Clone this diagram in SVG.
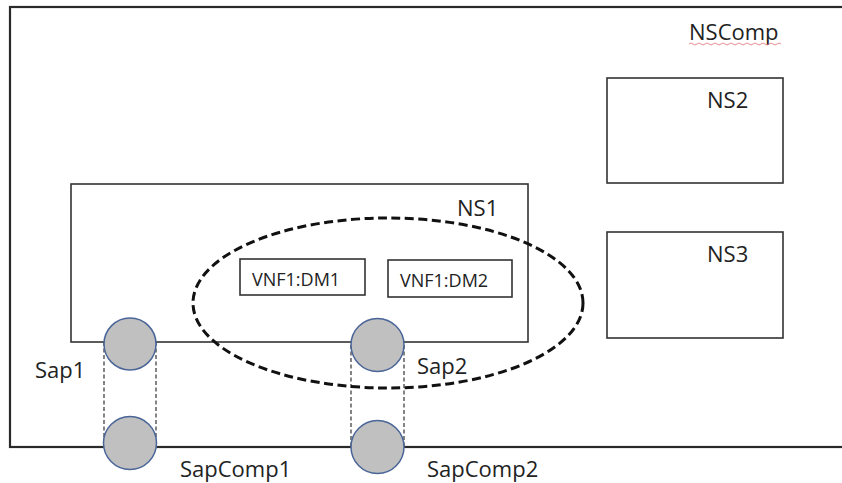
<svg xmlns="http://www.w3.org/2000/svg" width="842" height="483" viewBox="0 0 842 483">
<style>
text{font-family:"Open Sans","Noto Sans","Liberation Sans",sans-serif;fill:#222;}
.lbl{font-size:22px;}
.small{font-size:18px;}
.box{fill:none;stroke:#333;stroke-width:1.6;}
.outer{fill:#fff;stroke:#2a2a2a;stroke-width:2.2;}
.sap{fill:#c0c0c0;stroke:#4a6598;stroke-width:1.5;}
.link{stroke:#333;stroke-width:1.2;stroke-dasharray:4 2.5;fill:none;}
.grp{fill:none;stroke:#111;stroke-width:3;stroke-dasharray:9 4.5;}
</style>
<rect width="842" height="483" fill="#fff"/>
<g id="NSComp">
<rect class="outer" x="10" y="7" width="840" height="440"/>
<text class="lbl" x="689" y="40">NSComp</text>
<path d="M689,44 q2,-2 4,0 t4,0 t4,0 t4,0 t4,0 t4,0 t4,0 t4,0 t4,0 t4,0 t4,0 t4,0 t4,0 t4,0 t4,0 t4,0 t4,0 t4,0 t4,0 t4,0 t4,0 t4,0 t4,0" fill="none" stroke="#e07070" stroke-width="0.8"/>
</g>
<g id="NS2">
<rect class="box" x="607" y="78" width="176" height="105"/>
<text class="lbl" x="707" y="108">NS2</text>
</g>
<g id="NS3">
<rect class="box" x="607" y="232" width="176" height="106"/>
<text class="lbl" x="707" y="262">NS3</text>
</g>
<g id="NS1">
<rect class="box" x="71" y="184" width="457" height="158"/>
<text class="lbl" x="457" y="216">NS1</text>
</g>
<g id="VNF1-DM1">
<rect class="box" x="240" y="259" width="125" height="36"/>
<text class="small" x="252" y="286">VNF1:DM1</text>
</g>
<g id="VNF1-DM2">
<rect class="box" x="388" y="260" width="124" height="37"/>
<text class="small" x="400" y="287">VNF1:DM2</text>
</g>
<g id="connectors">
<line class="link" x1="104" y1="342" x2="104" y2="443"/>
<line class="link" x1="156" y1="342" x2="156" y2="443"/>
<line class="link" x1="351" y1="345" x2="351" y2="447"/>
<line class="link" x1="404" y1="345" x2="404" y2="447"/>
</g>
<g id="Sap1">
<circle class="sap" cx="130" cy="344" r="26"/>
<text class="lbl" x="35" y="378">Sap1</text>
</g>
<g id="Sap2">
<circle class="sap" cx="377.5" cy="345" r="26.5"/>
<text class="lbl" x="417" y="374">Sap2</text>
</g>
<g id="SapComp1">
<circle class="sap" cx="130" cy="443" r="26.5"/>
<text class="lbl" x="180" y="477">SapComp1</text>
</g>
<g id="SapComp2">
<circle class="sap" cx="377.5" cy="447" r="26.5"/>
<text class="lbl" x="427" y="477">SapComp2</text>
</g>
<g id="DM-group">
<ellipse class="grp" cx="388" cy="303" rx="195" ry="85"/>
</g>
</svg>
